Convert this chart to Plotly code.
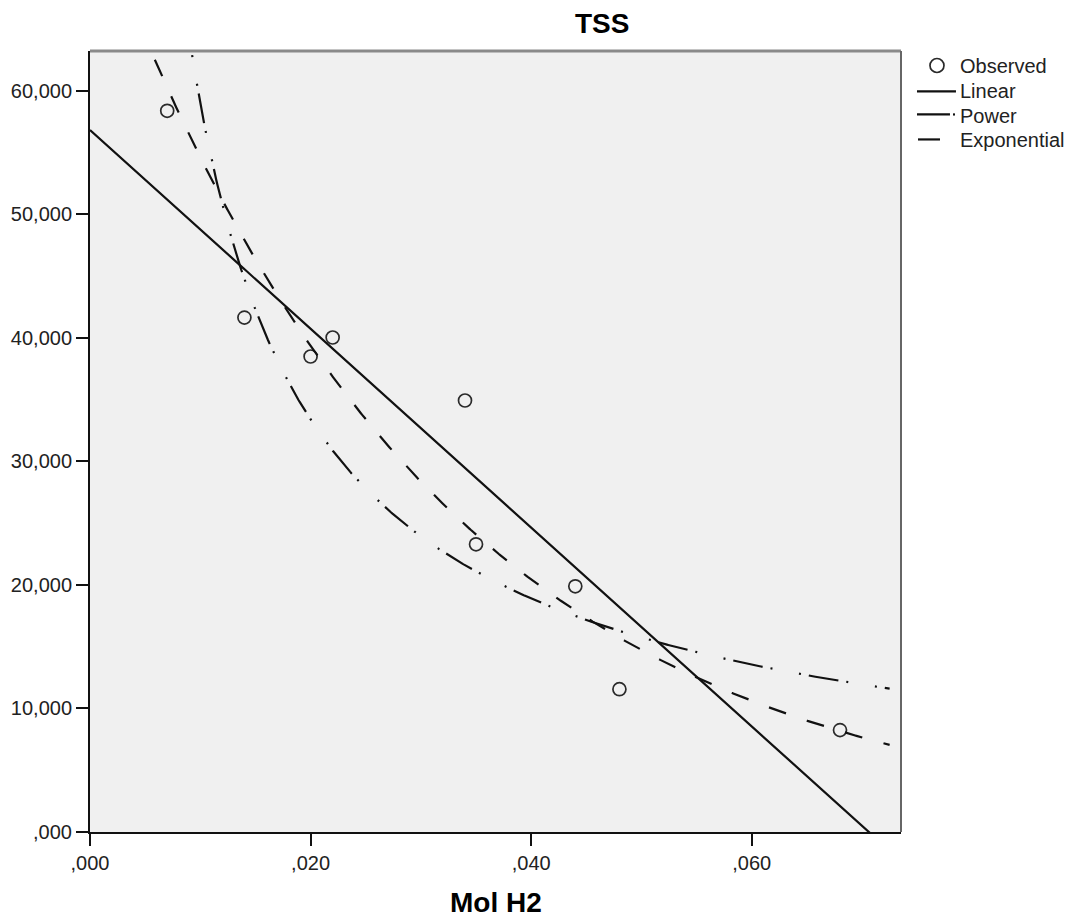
import numpy as np
import plotly.graph_objects as go

# ---- data ----
mol_h2 = [0.007, 0.014, 0.020, 0.022, 0.034, 0.035, 0.044, 0.048, 0.068]
tss = [58.38, 41.64, 38.49, 40.03, 34.93, 23.29, 19.89, 11.56, 8.25]

x_tick_vals = [0.0, 0.02, 0.04, 0.06]
x_tick_text = [",000", ",020", ",040", ",060"]
y_tick_vals = [0, 10, 20, 30, 40, 50, 60]
y_tick_text = [",000", "10,000", "20,000", "30,000", "40,000", "50,000", "60,000"]

legend_names = ["Observed", "Linear", "Power", "Exponential"]

x_range = [0.0, 0.07353]
y_range = [0.0, 63.22]

# ---- fitted models (least squares on the observed data, as SPSS Curve Estimation) ----
xo = np.array(mol_h2)
yo = np.array(tss)
lin_b, lin_a = np.polyfit(xo, yo, 1)
exp_b, exp_lna = np.polyfit(xo, np.log(yo), 1)
pow_b, pow_lna = np.polyfit(np.log(xo), np.log(yo), 1)

xs_lin = np.linspace(0.0, 0.072, 600)
xs = np.linspace(0.0005, 0.0725, 600)
y_lin = lin_a + lin_b * xs_lin
y_pow = np.exp(pow_lna) * xs ** pow_b
y_exp = np.exp(exp_lna) * np.exp(exp_b * xs)

FONT = "Liberation Sans, Arial, sans-serif"
INK = "#111111"
DASH_POW = "2px,8px,30px,8px,2px,27px"
DASH_EXP = "18px,22px"

# page has an 8px body margin; figure is offset by that
OFF = 8
W, H = 1074 - OFF, 918 - OFF
L, R, T, B = 89.6, 901, 51, 832.5          # plot box in page pixels
ml, mt = L - OFF, T - OFF
mr, mb = W - (R - OFF), H - (B - OFF)
pw, ph = R - L, B - T


def px(xp):
    return (xp - L) / pw


def py(yp):
    return (B - yp) / ph


fig = go.Figure()
fig.add_trace(go.Scatter(
    x=mol_h2, y=tss, mode="markers", name=legend_names[0],
    marker=dict(symbol="circle-open", size=13, color="#2a2a2a", line=dict(width=1.7, color="#2a2a2a")),
))
fig.add_trace(go.Scatter(
    x=xs_lin, y=y_lin, mode="lines", name=legend_names[1],
    line=dict(color=INK, width=2.2),
))
fig.add_trace(go.Scatter(
    x=xs, y=y_pow, mode="lines", name=legend_names[2],
    line=dict(color=INK, width=2.2, dash=DASH_POW),
))
fig.add_trace(go.Scatter(
    x=xs, y=y_exp, mode="lines", name=legend_names[3],
    line=dict(color=INK, width=2.2, dash=DASH_EXP),
))

# manual legend (SPSS style, tight rows)
leg_text_x = 958
leg_rows = [66.5, 91.5, 116.5, 140.5]
shapes = [
    dict(type="line", xref="paper", yref="paper", x0=0, x1=1, y0=1, y1=1,
         line=dict(color="#8a8a8a", width=3)),
    dict(type="line", xref="paper", yref="paper", x0=1, x1=1, y0=0, y1=1,
         line=dict(color="#666666", width=2)),
    # Observed circle
    dict(type="circle", xref="paper", yref="paper",
         x0=px(930), x1=px(944), y0=py(58.5), y1=py(72.5),
         line=dict(color="#2a2a2a", width=1.7), fillcolor="rgba(0,0,0,0)"),
    # Linear
    dict(type="line", xref="paper", yref="paper", x0=px(917), x1=px(956),
         y0=py(leg_rows[1]), y1=py(leg_rows[1]), line=dict(color=INK, width=2.2)),
    # Power: long dash then dot
    dict(type="line", xref="paper", yref="paper", x0=px(917), x1=px(950),
         y0=py(leg_rows[2] - 2), y1=py(leg_rows[2] - 2), line=dict(color=INK, width=2.2)),
    dict(type="line", xref="paper", yref="paper", x0=px(953), x1=px(955),
         y0=py(leg_rows[2] - 2), y1=py(leg_rows[2] - 2), line=dict(color=INK, width=2.2)),
    # Exponential: short dash
    dict(type="line", xref="paper", yref="paper", x0=px(918), x1=px(940),
         y0=py(leg_rows[3] - 1), y1=py(leg_rows[3] - 1), line=dict(color=INK, width=2.2)),
]

annotations = [
    dict(text="<b>TSS</b>", xref="paper", yref="paper",
         x=px(602), y=py(23), xanchor="center", yanchor="middle",
         showarrow=False, font=dict(family=FONT, size=28, color="#000000")),
    dict(text="<b>Mol H2</b>", xref="paper", yref="paper",
         x=0.5, y=py(903), xanchor="center", yanchor="middle",
         showarrow=False, font=dict(family=FONT, size=28, color="#000000")),
]
for name, row in zip(legend_names, leg_rows):
    annotations.append(dict(
        text=name, xref="paper", yref="paper", x=px(leg_text_x), y=py(row),
        xanchor="left", yanchor="middle", showarrow=False,
        font=dict(family=FONT, size=20, color="#222222"),
    ))

fig.update_layout(
    width=W, height=H,
    margin=dict(l=ml, r=mr, t=mt, b=mb, pad=0, autoexpand=False),
    paper_bgcolor="white",
    plot_bgcolor="#f0f0f0",
    font=dict(family=FONT, size=20, color="#222222"),
    showlegend=False,
    xaxis=dict(
        range=x_range, tickmode="array", tickvals=x_tick_vals, ticktext=x_tick_text,
        ticks="outside", ticklen=12, tickwidth=2, tickcolor=INK,
        showline=True, linecolor=INK, linewidth=2, mirror=False,
        showgrid=False, zeroline=False, automargin=False,
        tickfont=dict(family=FONT, size=20, color="#222222"),
    ),
    yaxis=dict(
        range=y_range, tickmode="array", tickvals=y_tick_vals, ticktext=y_tick_text,
        ticks="outside", ticklen=12, tickwidth=2, tickcolor=INK,
        showline=True, linecolor=INK, linewidth=2, mirror=False,
        showgrid=False, zeroline=False, automargin=False,
        tickfont=dict(family=FONT, size=20, color="#222222"),
    ),
    shapes=shapes,
    annotations=annotations,
)

fig.write_html("out.html")
